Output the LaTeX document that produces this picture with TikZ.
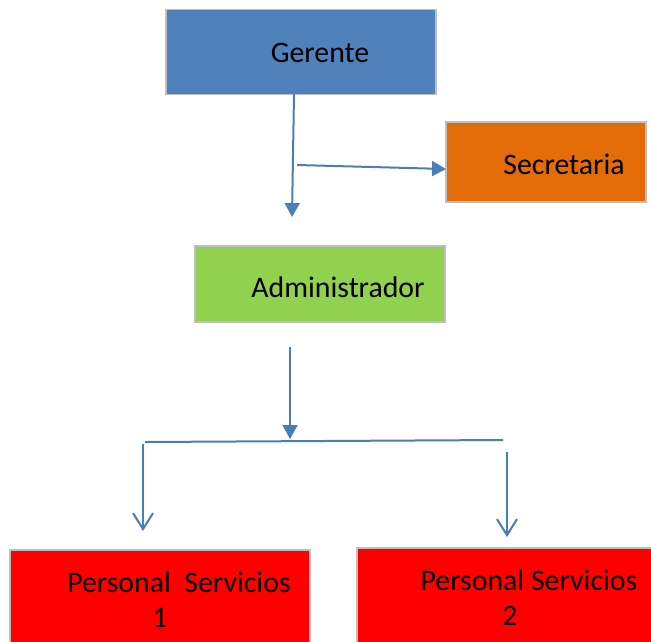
\documentclass[tikz,border=0pt]{standalone}
\usepackage{fontspec}
\setmainfont{Carlito}
\usetikzlibrary{arrows.meta}
\definecolor{gblue}{HTML}{4F81BD}
\definecolor{gorange}{HTML}{E36C09}
\definecolor{ggreen}{HTML}{92D050}
\definecolor{gred}{HTML}{FF0000}
\definecolor{gborder}{HTML}{BFBFBF}
\definecolor{lineblue}{HTML}{4A7EBB}
\tikzset{
  x=1pt, y=-1pt,
  box/.style={draw=gborder, line width=1.5pt, inner sep=0pt, outer sep=0pt},
  lbl/.style={inner sep=0pt, font=\fontsize{29.8}{34}\selectfont, text=black},
  conn/.style={draw=lineblue, line width=2pt},
  filled/.style={conn, -{Triangle[width=15pt,length=14pt]}},
  openarr/.style={conn, -{Straight Barb[width=20pt,length=16pt,line width=2pt]}}
}
\begin{document}
\begin{tikzpicture}
\useasboundingbox (0,0) rectangle (651,641);
% boxes
\node[box, fill=gblue, minimum width=270pt, minimum height=85pt] (ger) at (301,52) {};
\node[box, fill=gorange, minimum width=200pt, minimum height=80pt] (sec) at (546,162) {};
\node[box, fill=ggreen, minimum width=250pt, minimum height=76pt] (adm) at (320,284) {};
\node[box, fill=gred, minimum width=300pt, minimum height=100pt] (ps1) at (160,600) {};
\node[box, fill=gred, minimum width=300pt, minimum height=100pt] (ps2) at (507,598) {};
% texts
\node[lbl] (tger) at (320,53) {Gerente};
\node[lbl] (tsec) at (564,164) {Secretaria};
\node[lbl] (tadm) at (338,287) {Administrador};
\node[lbl] (tps1a) at (179,582) {Personal\ \ Servicios};
\node[lbl] (tps1b) at (160,618) {1};
\node[lbl] (tps2a) at (529,580) {Personal Servicios};
\node[lbl] (tps2b) at (510,616) {2};
% connector coordinates
\coordinate (g0) at (294,94);
\coordinate (g1) at (292,217);
\coordinate (s0) at (297,165);
\coordinate (a0) at (290,347);
\coordinate (a1) at (290,439);
\coordinate (hL) at (145,442);
\coordinate (hR) at (503,440);
\coordinate (l0) at (143,444);
\coordinate (l1) at (143,531);
\coordinate (r0) at (507,452);
\coordinate (r1) at (507,537);
% connectors
\draw[filled] (g0) -- (g1);
\draw[filled] (s0) -- ([yshift=-7pt]sec.west);
\draw[filled] (a0) -- (a1);
\draw[conn] (hL) -- (hR);
\draw[openarr] (l0) -- (l1);
\draw[openarr] (r0) -- (r1);
\end{tikzpicture}
\end{document}
